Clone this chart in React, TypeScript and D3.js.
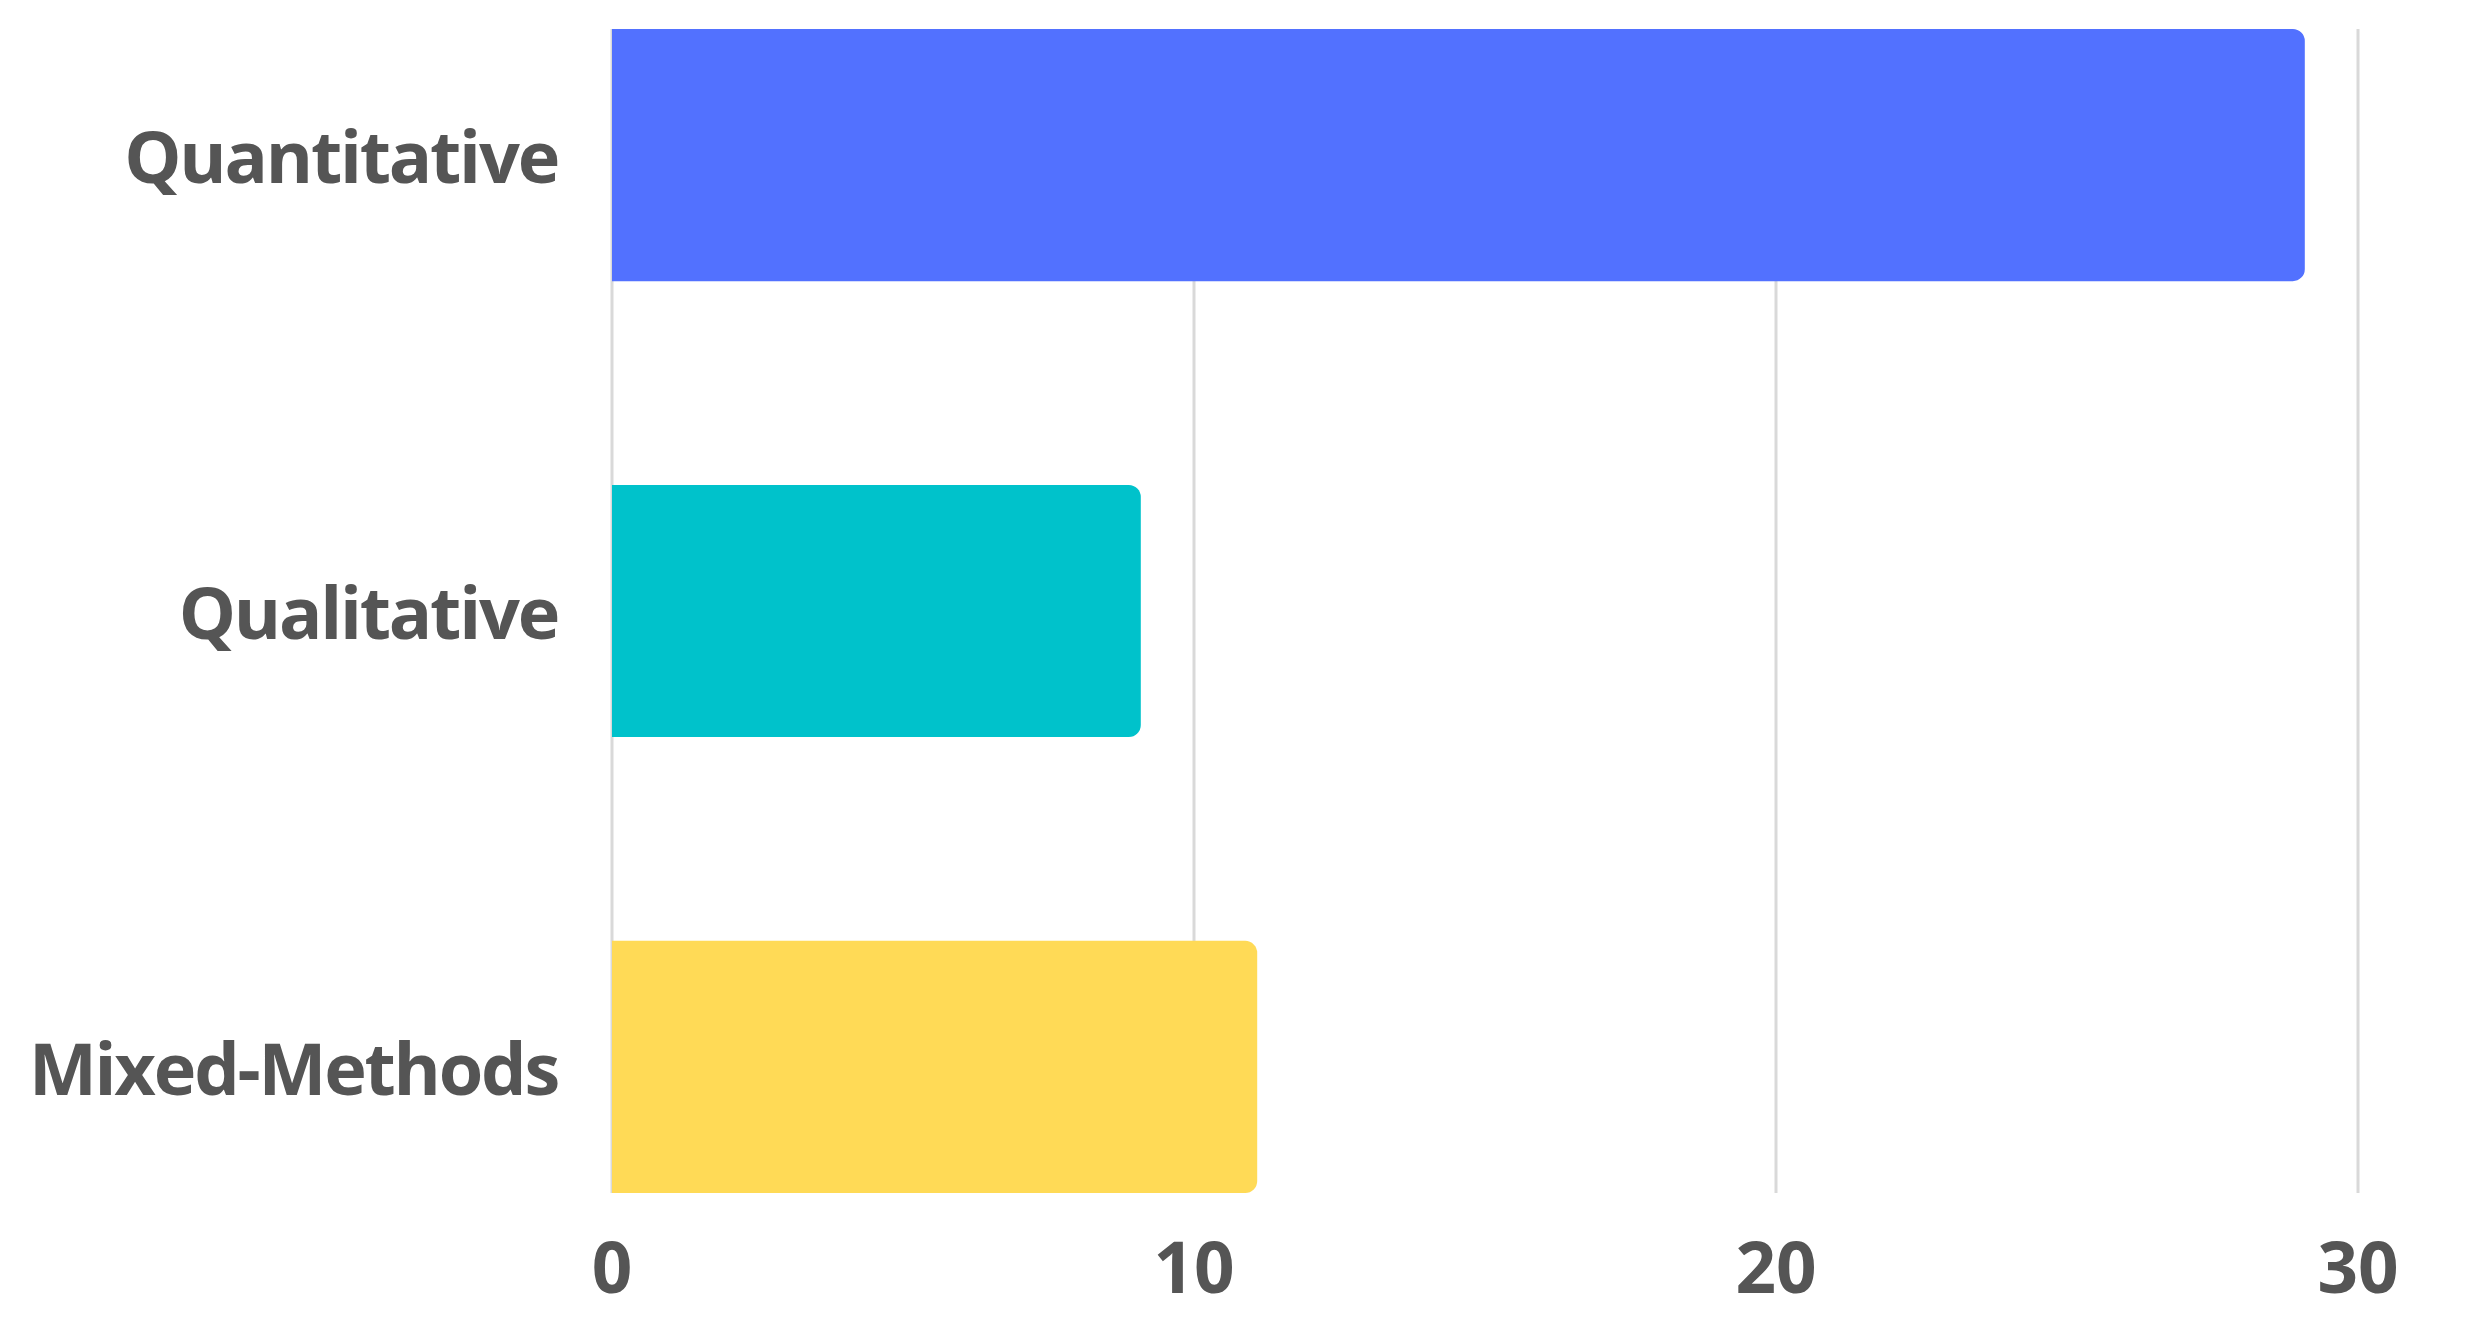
import React from "react";
import * as d3 from "d3";

const categories = ["Quantitative", "Qualitative", "Mixed-Methods"];
const values = [29, 9, 11];
const colors = ["#5271FF", "#00C2CB", "#FFDA56"];
const ticks = [0, 10, 20, 30];

const W = 2468;
const H = 1337;
const x0 = 612;
const x1 = 2358;
const yTop = 29;
const yBot = 1193;
const barOvershoot = 5;

function barPath(x: number, y: number, w: number, h: number, r: number) {
  const rr = Math.min(r, w / 2, h / 2);
  const p = d3.path();
  p.moveTo(x, y);
  p.lineTo(x + w - rr, y);
  p.arcTo(x + w, y, x + w, y + rr, rr);
  p.lineTo(x + w, y + h - rr);
  p.arcTo(x + w, y + h, x + w - rr, y + h, rr);
  p.lineTo(x, y + h);
  p.closePath();
  return p.toString();
}

export default function App() {
  const x = d3.scaleLinear().domain([0, 30]).range([x0, x1]);
  const y = d3
    .scaleBand<string>()
    .domain(categories)
    .range([yTop, yBot])
    .paddingInner(0.447)
    .paddingOuter(0);
  const font = "'Open Sans', sans-serif";
  return (
    <svg
      width={W}
      height={H}
      style={{ position: "absolute", left: 0, top: 0, background: "#fff" }}
    >
      {ticks.map((t) => (
        <line
          key={"g" + t}
          x1={x(t)}
          x2={x(t)}
          y1={yTop}
          y2={yBot}
          stroke="#d9d9d9"
          strokeWidth={3}
        />
      ))}
      {categories.map((c, i) => (
        <path
          key={c}
          d={barPath(
            x(0),
            y(c)!,
            x(values[i]) - x(0) + barOvershoot,
            y.bandwidth(),
            12
          )}
          fill={colors[i]}
        />
      ))}
      {categories.map((c) => (
        <text
          key={"l" + c}
          x={558}
          y={y(c)! + y.bandwidth() / 2}
          textAnchor="end"
          dominantBaseline="central"
          fontFamily={font}
          fontWeight={700}
          fontSize={72}
          letterSpacing={-2.2}
          fill="#555555"
        >
          {c}
        </text>
      ))}
      {ticks.map((t) => (
        <text
          key={"t" + t}
          x={x(t)}
          y={1293}
          textAnchor="middle"
          fontFamily={font}
          fontWeight={700}
          fontSize={71}
          fill="#555555"
        >
          {t}
        </text>
      ))}
    </svg>
  );
}
